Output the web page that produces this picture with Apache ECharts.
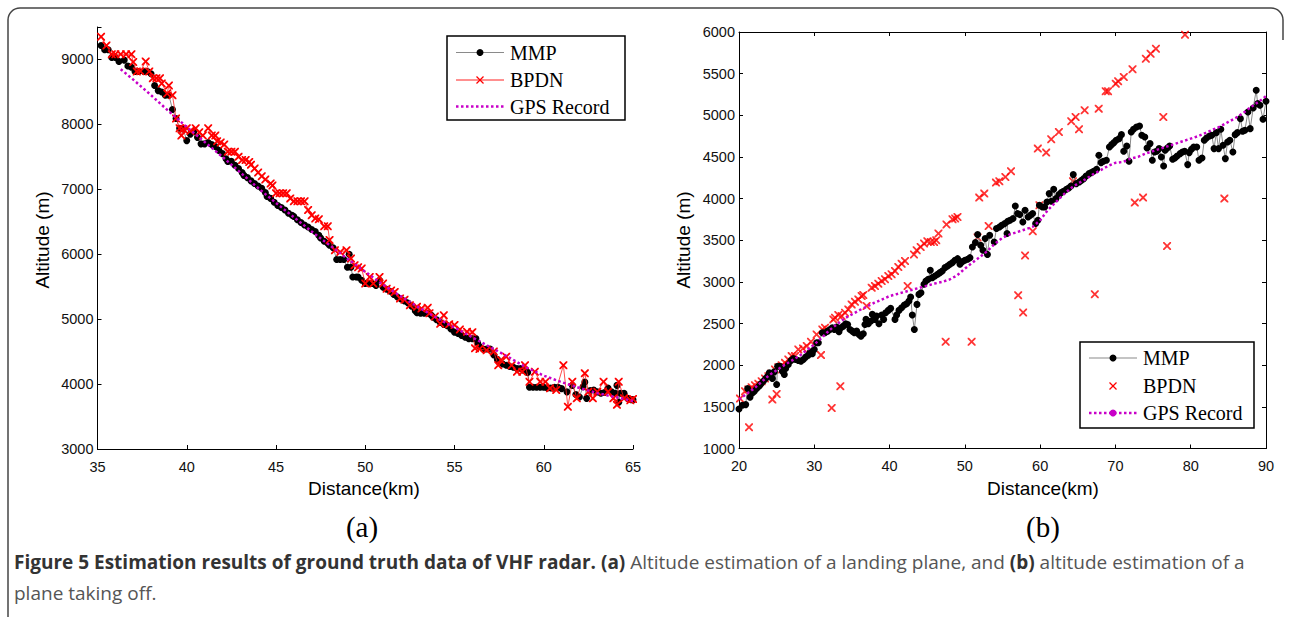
<!DOCTYPE html>
<html>
<head>
<meta charset="utf-8">
<script src="https://cdn.jsdelivr.net/npm/echarts@6/dist/echarts.min.js"></script>
<style>
html,body{margin:0;padding:0;background:#fff;}
#chart{width:1290px;height:617px;}
</style>
</head>
<body>
<div id="chart"></div>
<script>
// ---------- DATA ----------
// (a) landing plane: [distance km, altitude m]
var mmpA = [
[35.2,9215],[35.4,9150],[35.6,9150],[35.8,9030],[36.0,9030],[36.2,8970],[36.5,8990],[36.7,8900],[36.9,8880],
[37.1,8815],[37.3,8815],[37.6,8815],[37.8,8815],[38.0,8780],[38.2,8600],[38.4,8520],[38.6,8500],[38.8,8450],
[39.0,8450],[39.2,8230],[39.4,8090],[39.6,7940],[39.8,7930],[40.0,7750],[40.2,7850],[40.4,7890],[40.6,7800],
[40.8,7700],[41.0,7700],[41.2,7720],[41.4,7690],[41.6,7660],[41.8,7600],[42.0,7550],[42.2,7470],[42.3,7430],
[42.5,7430],[42.7,7370],[42.9,7320],[43.1,7260],[43.2,7215],[43.4,7180],[43.6,7130],[43.8,7090],[44.0,7050],
[44.2,7015],[44.4,6950],[44.5,6890],[44.7,6860],[44.9,6800],[45.1,6750],[45.3,6720],[45.5,6680],[45.7,6630],
[45.9,6600],[46.0,6580],[46.2,6530],[46.4,6490],[46.6,6450],[46.8,6420],[47.0,6380],[47.2,6350],[47.4,6290],
[47.5,6250],[47.7,6200],[47.9,6170],[48.0,6140],[48.2,6100],[48.4,5920],[48.6,5920],[48.8,5920],[49.0,5800],
[49.1,6000],[49.2,5800],[49.3,5650],[49.5,5650],[49.6,5650],[49.8,5600],[50.0,5550],[50.2,5550],[50.4,5550],
[50.6,5520],[50.8,5600],[51.0,5490],[51.2,5460],[51.4,5430],[51.6,5380],[51.8,5340],[52.0,5310],[52.2,5280],
[52.4,5250],[52.6,5200],[52.8,5130],[52.9,5100],[53.1,5090],[53.3,5090],[53.5,5090],[53.7,5060],[53.8,5030],
[54.0,4990],[54.2,4950],[54.4,4920],[54.6,4900],[54.8,4850],[55.0,4800],[55.2,4780],[55.4,4750],[55.6,4720],
[55.8,4700],[56.0,4700],[56.2,4700],[56.3,4630],[56.4,4580],[56.6,4540],[56.8,4540],[57.0,4540],[57.2,4450],
[57.4,4380],[57.5,4340],[57.7,4310],[57.9,4290],[58.1,4270],[58.3,4260],[58.5,4240],[58.7,4240],[58.9,4210],
[59.1,4180],[59.2,3950],[59.4,3950],[59.6,3950],[59.8,3950],[60.0,3950],[60.2,3940],[60.4,3940],[60.6,3950],
[60.8,3950],[61.0,3930],[61.3,3880],[61.6,3980],[61.8,3840],[62.0,3800],[62.2,3960],[62.3,4030],[62.4,3780],
[62.6,3900],[62.8,3910],[63.0,3880],[63.2,3860],[63.4,3870],[63.6,3940],[63.8,3880],[64.0,3860],[64.1,3980],
[64.2,3720],[64.3,3860],[64.5,3860],[64.7,3780],[64.9,3760],[65.0,3760]
];
var bpdnA = [
[35.2,9350],[35.5,9215],[35.8,9080],[36.0,9080],[36.3,9080],[36.6,9080],[36.9,9080],[37.0,8960],[37.2,8815],
[37.4,8820],[37.7,8970],[37.9,8815],[38.1,8710],[38.3,8710],[38.5,8710],[38.6,8630],[38.9,8475],[39.0,8600],
[39.2,8450],[39.4,8090],[39.6,7940],[39.7,7830],[39.8,7930],[40.0,7940],[40.2,7900],[40.5,7940],[40.7,7880],
[40.9,7830],[41.2,7940],[41.4,7830],[41.6,7830],[41.7,7740],[41.9,7720],[42.1,7690],[42.3,7580],[42.5,7580],
[42.7,7580],[42.9,7500],[43.1,7450],[43.3,7450],[43.5,7420],[43.6,7380],[43.8,7320],[44.0,7260],[44.2,7200],
[44.4,7150],[44.7,7090],[44.8,7060],[45.0,6940],[45.2,6940],[45.4,6940],[45.6,6940],[45.8,6860],[46.0,6815],
[46.2,6815],[46.4,6815],[46.6,6815],[46.8,6680],[47.0,6600],[47.2,6550],[47.4,6540],[47.7,6430],[47.9,6430],
[48.0,6220],[48.3,6060],[48.6,6035],[48.95,6060],[49.2,5934],[49.4,5830],[49.6,5800],[49.8,5780],[50.0,5550],
[50.25,5650],[50.45,5550],[50.8,5650],[51.0,5550],[51.2,5470],[51.45,5440],[51.65,5420],[51.95,5320],[52.2,5300],
[52.5,5215],[52.9,5190],[53.15,5165],[53.5,5175],[53.6,5090],[53.9,5040],[54.2,4930],[54.4,5060],[54.7,4920],
[55.0,4910],[55.3,4840],[55.7,4805],[56.0,4800],[56.15,4550],[56.4,4540],[56.8,4520],[57.2,4500],[57.45,4290],
[57.6,4370],[57.9,4420],[58.2,4290],[58.5,4190],[58.8,4190],[58.95,4290],[59.2,4035],[59.5,4190],[59.8,4035],
[60.1,4035],[60.35,3935],[60.7,3910],[61.1,4290],[61.35,3650],[61.6,4035],[61.85,3780],[62.3,4165],[62.5,3880],
[62.75,3780],[63.0,3880],[63.35,4035],[63.6,3880],[63.9,3780],[64.1,3680],[64.2,4035],[64.5,3780],[64.85,3750],
[65.0,3770]
];
var gpsA = [
[36.3,8850],[37,8690],[38,8450],[39,8200],[40,7960],[41,7730],[42,7500],[43,7260],[44,7020],[45,6790],
[46,6570],[47,6350],[48,6140],[49,5930],[50,5730],[51,5530],[52,5350],[53,5180],[54,5020],[55,4870],
[56,4720],[57,4570],[58,4420],[59,4260],[60,4130],[61,4030],[62,3940],[63,3860],[64,3800],[65,3740]
];

// (b) plane taking off: [distance km, altitude m]
var mmpB = [
[20.00,1475],[20.44,1519],[20.89,1527],[21.15,1720],[21.46,1615],[21.77,1667],[22.04,1687],[22.35,1720],[22.66,1748],
[22.92,1776],[23.23,1808],[23.54,1840],[23.81,1868],[24.03,1908],[24.25,1888],[24.43,1840],[24.69,1920],[25.00,1768],
[25.13,1988],[25.44,1988],[25.75,1928],[26.02,1888],[26.20,1960],[26.55,2008],[26.91,2056],[27.22,2080],[27.53,2068],
[27.88,2056],[28.23,2048],[28.54,2068],[28.85,2097],[29.21,2121],[29.47,2157],[29.74,2137],[30.00,2189],[30.31,2269],
[30.54,2269],[31.07,2389],[31.42,2389],[31.78,2409],[32.09,2429],[32.39,2449],[32.66,2429],[32.97,2457],[33.28,2401],
[33.55,2449],[33.86,2469],[34.17,2497],[34.43,2489],[34.74,2429],[35.05,2409],[35.32,2389],[35.63,2409],[35.94,2369],
[36.20,2349],[36.51,2377],[36.73,2489],[36.87,2550],[37.18,2497],[37.53,2530],[37.71,2610],[38.06,2550],[38.28,2590],
[38.59,2497],[38.95,2602],[39.21,2550],[39.48,2630],[39.83,2658],[40.14,2682],[40.72,2550],[40.94,2602],[41.25,2658],
[41.60,2690],[41.96,2722],[42.27,2738],[42.58,2770],[42.80,2818],[43.02,2602],[43.29,2429],[43.64,2730],[43.90,2850],
[44.17,2870],[44.57,2971],[44.83,3011],[45.14,3031],[45.41,3139],[45.68,3051],[46.03,3071],[46.39,3091],[46.69,3111],
[47.00,3131],[47.36,3171],[47.71,3191],[48.02,3211],[48.33,3231],[48.69,3259],[49.04,3279],[49.35,3211],[49.66,3243],
[50.01,3259],[50.37,3271],[50.68,3291],[51.0,3420],[51.4,3472],[51.7,3568],[52.1,3440],[52.4,3380],[52.7,3520],
[53.0,3330],[53.3,3560],[53.9,3480],[54.2,3640],[54.6,3660],[54.9,3680],[55.3,3700],[55.6,3580],[55.7,3728],
[56.0,3740],[56.4,3760],[56.7,3912],[57.0,3820],[57.3,3808],[57.7,3720],[58.0,3860],[58.4,3780],[58.7,3800],
[59.0,3820],[59.4,3700],[59.7,3740],[59.9,3920],[60.3,3900],[60.6,3900],[60.9,3960],[61.2,4060],[61.5,3968],
[61.8,4112],[62.1,4000],[62.5,4048],[62.8,4072],[63.1,4088],[63.5,4112],[63.8,4128],[64.1,4152],[64.4,4288],
[64.8,4180],[65.2,4200],[65.5,4220],[65.8,4240],[66.1,4272],[66.5,4300],[66.8,4312],[67.1,4328],[67.5,4352],
[67.8,4520],[68.1,4432],[68.4,4448],[68.8,4460],[69.2,4620],[69.5,4648],[69.8,4672],[70.1,4700],[70.5,4720],
[70.8,4768],[71.1,4568],[71.5,4632],[71.8,4448],[72.1,4800],[72.4,4832],[72.8,4860],[73.2,4872],[73.5,4760],
[73.9,4740],[74.2,4608],[74.6,4660],[74.9,4460],[75.2,4560],[75.5,4568],[75.8,4600],[76.1,4500],[76.4,4392],
[76.6,4580],[76.9,4608],[77.2,4632],[77.6,4472],[77.9,4488],[78.2,4512],[78.6,4540],[78.9,4560],[79.2,4568],
[79.6,4408],[79.8,4552],[80.1,4592],[80.4,4620],[80.8,4620],[81.1,4460],[81.5,4488],[81.8,4700],[82.1,4728],
[82.5,4752],[82.8,4760],[83.1,4600],[83.4,4792],[83.7,4600],[84.0,4832],[84.3,4640],[84.6,4480],[84.9,4680],
[85.2,4700],[85.6,4560],[85.9,4768],[86.2,4792],[86.6,4960],[86.9,4808],[87.2,4820],[87.6,5040],[87.9,4840],
[88.3,5088],[88.7,5300],[88.9,5140],[89.2,5120],[89.6,4952],[90.0,5168]
];
var bpdnB = [
[20.13,1599],[20.80,1687],[21.24,1708],[21.33,1254],[21.68,1736],[22.12,1760],[22.57,1776],[23.01,1808],[23.45,1840],
[23.90,1868],[24.25,1896],[24.43,1587],[24.78,1948],[25.00,1655],[25.22,1976],[25.67,2000],[26.11,2028],[26.55,2068],
[27.00,2109],[27.44,2109],[27.88,2189],[28.5,2200],[29.0,2230],[29.56,2281],[30.31,2369],[30.89,2121],[31.07,2429],
[31.42,2449],[32.31,1487],[32.53,2550],[32.75,2570],[33.19,2602],[33.46,1748],[33.63,2590],[34.08,2630],[34.52,2670],
[34.96,2730],[35.40,2762],[35.85,2790],[36.29,2830],[36.51,2842],[36.95,2710],[37.62,2931],[38.06,2951],[38.50,2979],
[38.95,3011],[39.39,3031],[39.83,3071],[40.27,3091],[40.72,3131],[41.16,3179],[41.60,3219],[42.05,3251],[42.40,2951],
[43.24,3328],[43.6,3380],[44.13,3420],[44.58,3460],[45.02,3488],[45.47,3480],[45.91,3480],[46.2,3500],[46.49,3580],
[47.45,2281],[47.56,3688],[48.36,3752],[48.71,3760],[49.02,3780],[50.90,2281],[51.69,3532],[51.91,4012],[52.58,4060],
[53.16,3672],[54.13,4192],[54.58,4208],[55.38,4260],[56.13,4328],[57.08,2840],[57.74,2632],[58.00,3318],[59.02,3608],
[59.69,4600],[59.91,3920],[60.80,4552],[61.47,4712],[62.49,4800],[64.13,4928],[64.36,4208],[64.71,4980],[65.16,4832],
[65.91,5060],[67.26,2852],[67.78,5080],[68.71,5288],[69.02,5288],[70.04,5380],[70.36,5408],[71.11,5460],[72.27,5552],
[72.57,3952],[73.67,4012],[74.04,5680],[74.67,5740],[75.38,5800],[76.36,4980],[76.86,3430],[79.24,5968],[84.47,4000]
];
var gpsB = [
[20,1590],[22,1720],[24,1880],[26,2000],[28,2110],[30,2250],[31,2330],[32,2420],[33,2490],[34,2560],[35,2610],
[36,2660],[38,2750],[40,2830],[42,2880],[44,2930],[46,2980],[47,3000],[48,3030],[49,3080],[50,3160],[51,3230],
[52,3300],[53,3370],[54,3460],[55,3530],[56,3570],[57,3600],[58,3630],[59,3660],[60,3740],[61,3860],[62,3950],
[63,4040],[64,4120],[65,4180],[66,4230],[67,4290],[68,4340],[69,4390],[70,4430],[71,4440],[72,4480],[73,4500],
[74,4540],[75,4570],[76,4600],[77,4630],[78,4660],[79,4690],[80,4720],[81,4750],[82,4790],[83,4830],[84,4870],
[85,4920],[86,4970],[87,5030],[88,5100],[89,5160],[90,5230]
];

var seriesNames = ['MMP', 'BPDN', 'GPS Record'];
var xTitle = 'Distance(km)';
var yTitle = 'Altitude (m)';
var panelLabels = ['(a)', '(b)'];
var captionBold = 'Figure 5 Estimation results of ground truth data of VHF radar. (a)';
var captionText1 = ' Altitude estimation of a landing plane, and ';
var captionBold2 = '(b)';
var captionText2 = ' altitude estimation of a';
var captionText3 = 'plane taking off.';

// ---------- STYLE ----------
var X_PATH = 'path://M0,0L1.6,0L5,3.4L8.4,0L10,0L10,1.6L6.6,5L10,8.4L10,10L8.4,10L5,6.6L1.6,10L0,10L0,8.4L3.4,5L0,1.6Z';
var tickFont = {fontFamily: 'Liberation Sans', fontSize: 14.5, color: '#111'};
var MAG = '#c800c8';
function plain(v) { return String(v); }

function valAxis(o) {
  return Object.assign({
    type: 'value',
    axisLine: {show: true, onZero: false, lineStyle: {color: '#000', width: 1}},
    axisTick: {show: true, inside: true, length: 4, lineStyle: {color: '#000'}},
    splitLine: {show: false},
    axisLabel: Object.assign({formatter: plain}, tickFont)
  }, o);
}

var chart = echarts.init(document.getElementById('chart'), null, {renderer: 'svg'});

var option = {
  animation: false,
  backgroundColor: '#fff',
  grid: [
    {left: 97.5, top: 27, width: 535.5, height: 422},
    {left: 739, top: 32, width: 527, height: 416.5}
  ],
  xAxis: [
    valAxis({gridIndex: 0, min: 35, max: 65, interval: 5, axisLabel: Object.assign({margin: 10, formatter: plain}, tickFont)}),
    valAxis({gridIndex: 1, min: 20, max: 90, interval: 10, axisLabel: Object.assign({margin: 10, formatter: plain}, tickFont)}),
    valAxis({gridIndex: 1, min: 20, max: 90, interval: 10, position: 'top', axisLabel: {show: false}})
  ],
  yAxis: [
    valAxis({gridIndex: 0, min: 3000, max: 9500, interval: 1000,
      axisLabel: Object.assign({margin: 4, formatter: function (v) { return v % 1000 === 0 ? String(v) : ''; }}, tickFont)}),
    valAxis({gridIndex: 1, min: 1000, max: 6000, interval: 500, axisLabel: Object.assign({margin: 4, formatter: plain}, tickFont)}),
    valAxis({gridIndex: 1, min: 1000, max: 6000, interval: 500, position: 'right', axisLabel: {show: false}})
  ],
  series: [
    {name: seriesNames[0], type: 'line', xAxisIndex: 0, yAxisIndex: 0, data: mmpA, z: 2,
      symbol: 'circle', symbolSize: 7, showSymbol: true, itemStyle: {color: '#000'},
      lineStyle: {color: '#8a8a8a', width: 1}},
    {name: seriesNames[1], type: 'line', xAxisIndex: 0, yAxisIndex: 0, data: bpdnA, z: 3,
      symbol: X_PATH, symbolSize: 8, showSymbol: true, itemStyle: {color: '#ff0000'},
      lineStyle: {color: '#ff2020', width: 0.8}},
    {name: seriesNames[2], type: 'line', xAxisIndex: 0, yAxisIndex: 0, data: gpsA, z: 4,
      symbol: 'none', lineStyle: {color: MAG, width: 2.5, type: [2.5, 2.5]}},
    {name: seriesNames[1], type: 'scatter', xAxisIndex: 1, yAxisIndex: 1, data: bpdnB, z: 2,
      symbol: X_PATH, symbolSize: 8, itemStyle: {color: '#ff0000'}},
    {name: seriesNames[0], type: 'line', xAxisIndex: 1, yAxisIndex: 1, data: mmpB, z: 3,
      symbol: 'circle', symbolSize: 7, showSymbol: true, itemStyle: {color: '#000'},
      lineStyle: {color: '#8a8a8a', width: 1}},
    {name: seriesNames[2], type: 'line', xAxisIndex: 1, yAxisIndex: 1, data: gpsB, z: 4,
      symbol: 'none', lineStyle: {color: MAG, width: 2.5, type: [2.5, 2.5]}}
  ],
  graphic: []
};

var g = option.graphic;
var FR = {stroke: '#444', lineWidth: 1.5, fill: 'none'};
g.push({type: 'line', shape: {x1: 8, y1: 20, x2: 8, y2: 617}, style: FR, z: 1});
g.push({type: 'line', shape: {x1: 20, y1: 8, x2: 1271, y2: 8}, style: FR, z: 1});
g.push({type: 'arc', shape: {cx: 20, cy: 20, r: 12, startAngle: Math.PI, endAngle: Math.PI * 1.5}, style: FR, z: 1});
g.push({type: 'arc', shape: {cx: 1271, cy: 20, r: 12, startAngle: Math.PI * 1.5, endAngle: Math.PI * 2}, style: FR, z: 1});
g.push({type: 'line', shape: {x1: 1283, y1: 20, x2: 1283, y2: 40}, style: FR, z: 1});

function legend(x, y, w, h, rows, markerOnly) {
  g.push({type: 'rect', shape: {x: x, y: y, width: w, height: h}, style: {fill: '#fff', stroke: '#000', lineWidth: 1.5}, z: 20});
  var lx0 = x + 9, lx1 = x + 57, mx = x + 33, tx = x + 63;
  g.push({type: 'line', shape: {x1: lx0, y1: rows[0], x2: lx1, y2: rows[0]}, style: {stroke: '#8a8a8a', lineWidth: 1.2}, z: 21});
  g.push({type: 'circle', shape: {cx: mx, cy: rows[0], r: 3.5}, style: {fill: '#000'}, z: 22});
  if (!markerOnly) g.push({type: 'line', shape: {x1: lx0, y1: rows[1], x2: lx1, y2: rows[1]}, style: {stroke: '#ff2020', lineWidth: 1}, z: 21});
  g.push({type: 'line', shape: {x1: mx - 3.5, y1: rows[1] - 3.5, x2: mx + 3.5, y2: rows[1] + 3.5}, style: {stroke: '#ff0000', lineWidth: 1.3}, z: 22});
  g.push({type: 'line', shape: {x1: mx + 3.5, y1: rows[1] - 3.5, x2: mx - 3.5, y2: rows[1] + 3.5}, style: {stroke: '#ff0000', lineWidth: 1.3}, z: 22});
  g.push({type: 'line', shape: {x1: lx0, y1: rows[2], x2: lx1, y2: rows[2]}, style: {stroke: MAG, lineWidth: 2.5, lineDash: [2.5, 2.5]}, z: 21});
  if (markerOnly) g.push({type: 'circle', shape: {cx: mx, cy: rows[2], r: 3.5}, style: {fill: MAG}, z: 22});
  for (var i = 0; i < 3; i++) {
    g.push({type: 'text', x: tx, y: rows[i], z: 23,
      style: {text: seriesNames[i], fontFamily: 'Liberation Serif', fontSize: 20, fill: '#000', verticalAlign: 'middle'}});
  }
}
legend(447, 36, 178, 84, [52.5, 80, 106.5], false);
legend(1080, 342, 174, 86, [358, 386, 413], true);

function txt(x, y, s, size, family, rot) {
  g.push({type: 'text', x: x, y: y, rotation: rot || 0, z: 10,
    style: {text: s, fontFamily: family, fontSize: size, fill: '#000', align: 'center', verticalAlign: 'middle'}});
}
txt(364, 488, xTitle, 19, 'Liberation Sans');
txt(1043, 488, xTitle, 19, 'Liberation Sans');
txt(42, 240, yTitle, 19, 'Liberation Sans', Math.PI / 2);
txt(683, 240, yTitle, 19, 'Liberation Sans', Math.PI / 2);
txt(362, 527, panelLabels[0], 29, 'Liberation Serif');
txt(1043, 527, panelLabels[1], 29, 'Liberation Serif');

g.push({type: 'text', x: 14, y: 546, z: 10,
  style: {
    text: '{b|' + captionBold + '}{n|' + captionText1 + '}{b|' + captionBold2 + '}{n|' + captionText2 + '}\n{n|' + captionText3 + '}',
    rich: {
      b: {fontFamily: 'Open Sans', fontWeight: 'bold', fontSize: 19, fill: '#333', lineHeight: 31},
      n: {fontFamily: 'Open Sans', fontSize: 19, fill: '#555', lineHeight: 31}
    }
  }});

chart.setOption(option);
</script>
</body>
</html>
